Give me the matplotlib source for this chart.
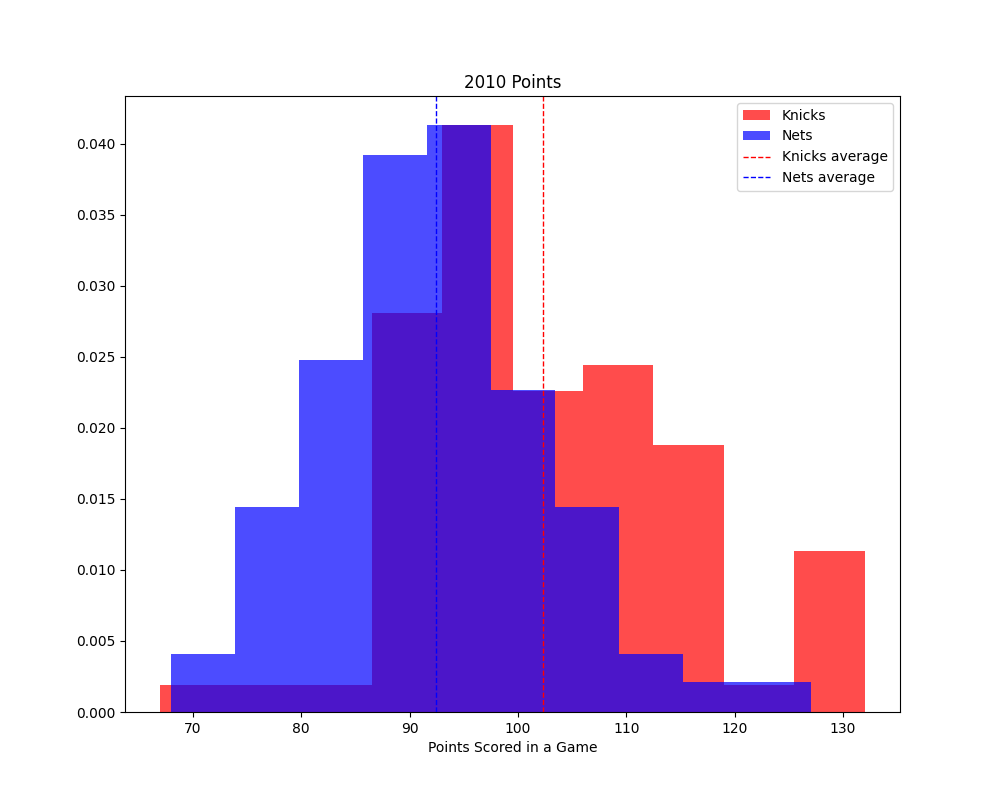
import numpy as np
from matplotlib import pyplot as plt

# bin edges and densities
knicks_edges = [67.0, 73.5, 80.0, 86.5, 93.0, 99.5, 106.0, 112.5, 119.0, 125.5, 132.0]
knicks_density = [0.0019, 0.0019, 0.0019, 0.0281, 0.0413, 0.0226, 0.0244, 0.0188, 0.0019, 0.0113]
nets_edges = [68.0, 73.9, 79.8, 85.7, 91.6, 97.5, 103.4, 109.3, 115.2, 121.1, 127.0]
nets_density = [0.0041, 0.0144, 0.0248, 0.0392, 0.0413, 0.0227, 0.0144, 0.0041, 0.0021, 0.0021]
knicks_avg = 102.3
nets_avg = 92.4

fig, ax = plt.subplots(figsize=(10, 8))
ax.hist(knicks_edges[:-1], bins=knicks_edges, weights=knicks_density, color="red", alpha=0.7, label="Knicks")
ax.hist(nets_edges[:-1], bins=nets_edges, weights=nets_density, color="blue", alpha=0.7, label="Nets")
ax.axvline(knicks_avg, color="red", linestyle="--", linewidth=1, label="Knicks average")
ax.axvline(nets_avg, color="blue", linestyle="--", linewidth=1, label="Nets average")

ax.set_title("2010 Points")
ax.set_xlabel("Points Scored in a Game")
ax.legend()
fig.savefig("out.png", dpi=100)
